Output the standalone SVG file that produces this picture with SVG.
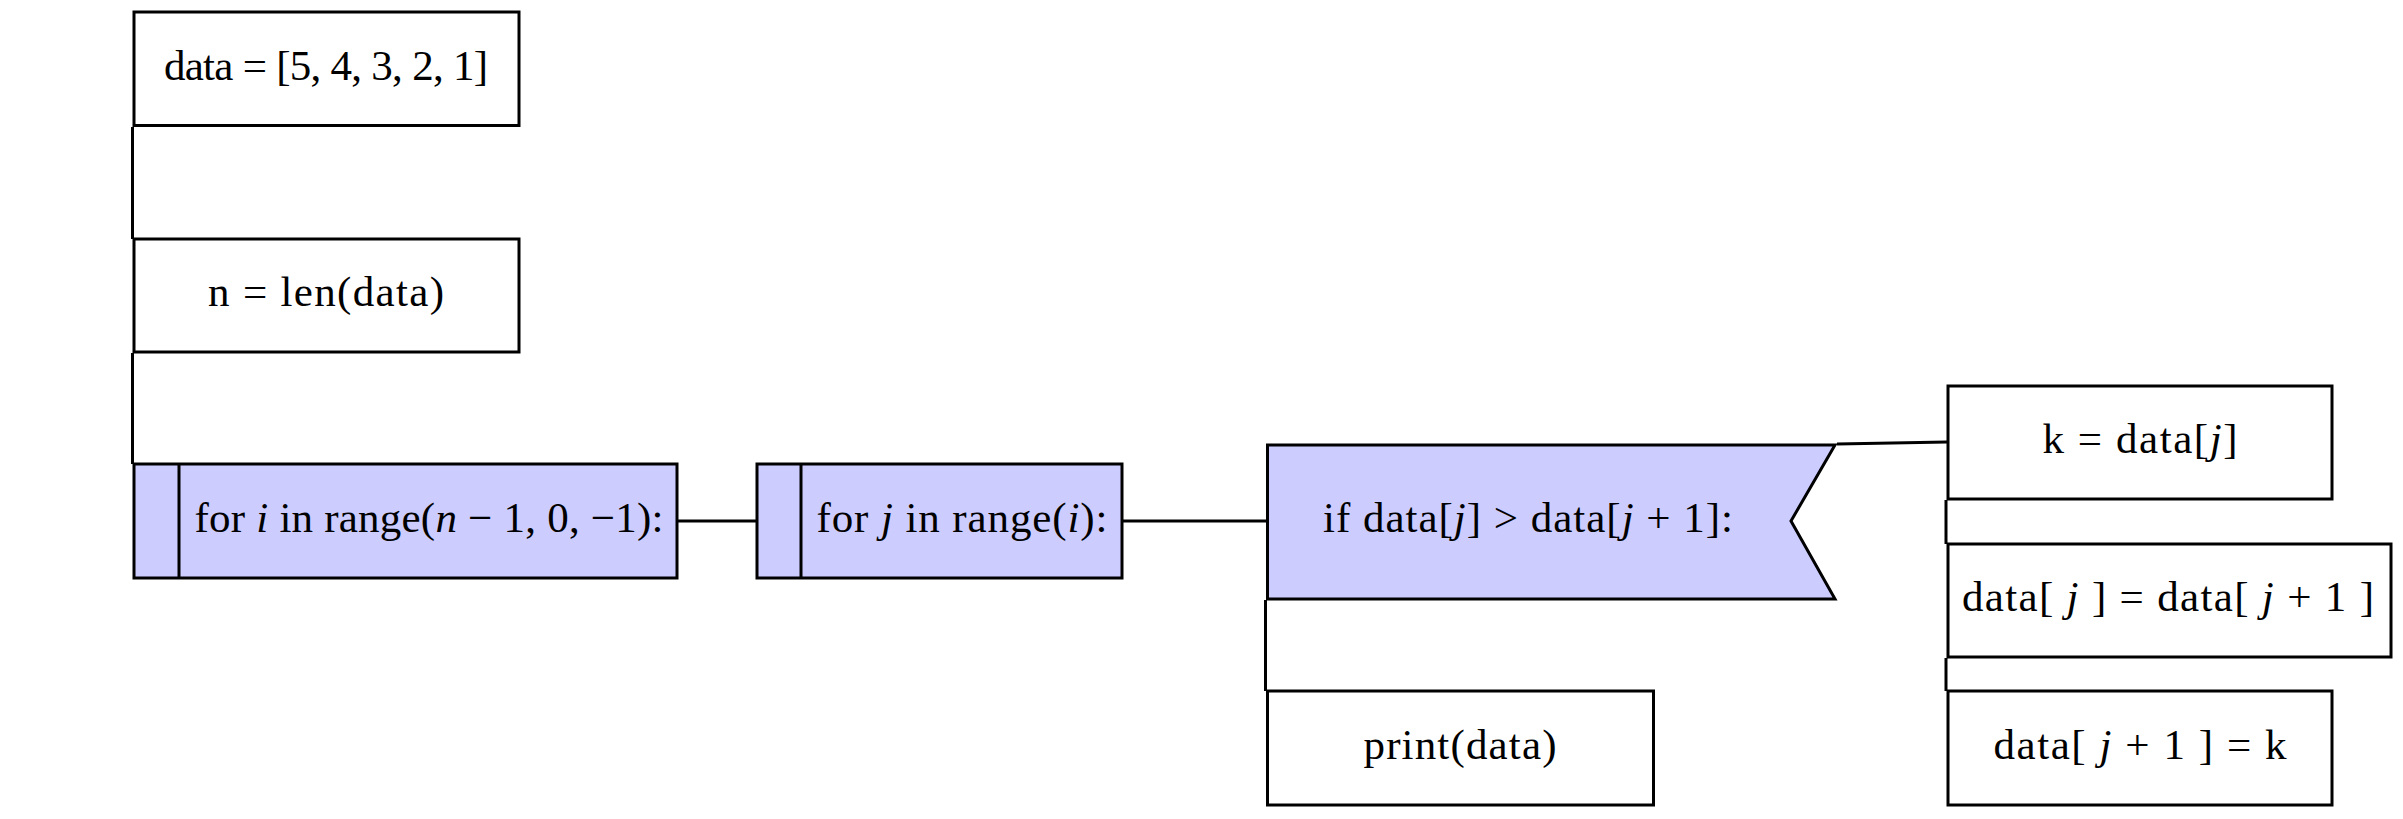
<svg xmlns="http://www.w3.org/2000/svg" width="2403" height="819" viewBox="0 0 2403 819">
  <style>
    .box { fill: #ffffff; stroke: #000000; stroke-width: 3; }
    .loop { fill: #ccccff; stroke: #000000; stroke-width: 3; }
    .bar { fill: none; stroke: #000000; stroke-width: 3; }
    .wire { fill: none; stroke: #000000; stroke-width: 3; }
    .lbl { font-family: "Liberation Serif", "DejaVu Serif", serif; font-size: 43px; fill: #000000; text-anchor: middle; }
    .v { font-style: italic; }
  </style>
  <rect width="2403" height="819" fill="#ffffff"/>

  <!-- connectors -->
  <g id="connectors">
    <path class="wire" d="M132.5 127 V239"/>
    <path class="wire" d="M132.5 353 V464"/>
    <path class="wire" d="M677 521 H757"/>
    <path class="wire" d="M1122 521 H1267"/>
    <path class="wire" d="M1265.5 600 V691"/>
    <path class="wire" d="M1837 444 L1947 442"/>
    <path class="wire" d="M1946 500 V544"/>
    <path class="wire" d="M1946 658 V691"/>
  </g>

  <g id="init-data">
    <rect class="box" x="134" y="12" width="385" height="113.5"/>
    <text class="lbl" x="326" y="80" textLength="324" lengthAdjust="spacing">data = [5, 4, 3, 2, 1]</text>
  </g>

  <g id="init-n">
    <rect class="box" x="134" y="239" width="385" height="113"/>
    <text class="lbl" x="326" y="306" textLength="236" lengthAdjust="spacing">n = len(data)</text>
  </g>

  <g id="outer-loop">
    <rect class="loop" x="134" y="464" width="543" height="114"/>
    <path class="bar" d="M179 464 V578"/>
    <text class="lbl" x="429" y="532" textLength="469" lengthAdjust="spacing">for <tspan class="v">i</tspan> in range(<tspan class="v">n</tspan> − 1, 0, −1):</text>
  </g>

  <g id="inner-loop">
    <rect class="loop" x="757" y="464" width="365" height="114"/>
    <path class="bar" d="M801 464 V578"/>
    <text class="lbl" x="962" y="532" textLength="291" lengthAdjust="spacing">for <tspan class="v">j</tspan> in range(<tspan class="v">i</tspan>):</text>
  </g>

  <g id="compare">
    <polygon class="loop" points="1267.5,445 1835,445 1791,521 1835,599 1267.5,599"/>
    <text class="lbl" x="1528" y="532" textLength="410" lengthAdjust="spacing">if data[<tspan class="v">j</tspan>] &gt; data[<tspan class="v">j</tspan> + 1]:</text>
  </g>

  <g id="print">
    <rect class="box" x="1267.5" y="691" width="386" height="114"/>
    <text class="lbl" x="1460" y="759" textLength="193" lengthAdjust="spacing">print(data)</text>
  </g>

  <g id="swap-k">
    <rect class="box" x="1948" y="386" width="384" height="113"/>
    <text class="lbl" x="2140" y="453" textLength="195" lengthAdjust="spacing">k = data[<tspan class="v">j</tspan>]</text>
  </g>

  <g id="swap-assign">
    <rect class="box" x="1948" y="544" width="443" height="113"/>
    <text class="lbl" x="2168" y="611" textLength="412" lengthAdjust="spacing">data[ <tspan class="v">j</tspan> ] = data[ <tspan class="v">j</tspan> + 1 ]</text>
  </g>

  <g id="swap-store">
    <rect class="box" x="1948" y="691" width="384" height="114"/>
    <text class="lbl" x="2140" y="759" textLength="293" lengthAdjust="spacing">data[ <tspan class="v">j</tspan> + 1 ] = k</text>
  </g>
</svg>
